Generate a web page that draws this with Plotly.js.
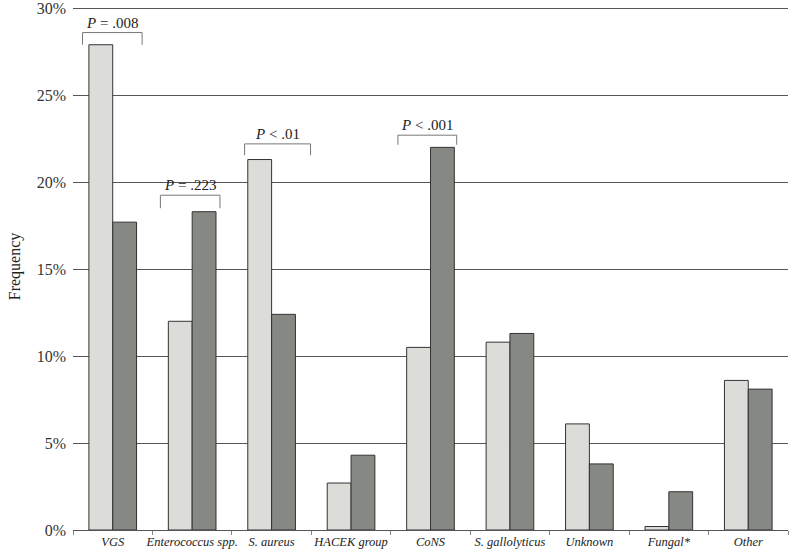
<!DOCTYPE html>
<html>
<head>
<meta charset="utf-8">
<script src="https://cdn.plot.ly/plotly-3.0.1.min.js"></script>
<style>html,body{margin:0;padding:0;background:#fff;}</style>
</head>
<body>
<div id="chart" style="width:790px;height:552px;"></div>
<script>
const categories = ["VGS", "Enterococcus spp.", "S. aureus", "HACEK group", "CoNS", "S. gallolyticus", "Unknown", "Fungal*", "Other"];
const seriesA = [27.9, 12.0, 21.3, 2.7, 10.5, 10.8, 6.1, 0.2, 8.6];
const seriesB = [17.7, 18.3, 12.4, 4.3, 22.0, 11.3, 3.8, 2.2, 8.1];
const yTicks = [0, 5, 10, 15, 20, 25, 30];
const pLabels = ["<i>P</i> = .008", "<i>P</i> = .223", "<i>P</i> < .01", "<i>P</i> < .001"];
const pCategory = [0, 1, 2, 4];
const pLeft = [-0.38, -0.40, -0.34, -0.41];
const pRight = [0.37, 0.35, 0.49, 0.33];
const pTop = [28.6, 19.25, 22.2, 22.7];
const pBottom = [27.9, 18.5, 21.55, 22.15];

const font = "'Liberation Serif', 'Times New Roman', serif";

const traces = [
  {type: "bar", x: categories, y: seriesA, marker: {color: "#dcddd9", line: {color: "#333333", width: 1}}, showlegend: false, hoverinfo: "skip"},
  {type: "bar", x: categories, y: seriesB, marker: {color: "#868883", line: {color: "#333333", width: 1}}, showlegend: false, hoverinfo: "skip"}
];

const shapes = [];
const annotations = [];
for (let i = 0; i < pLabels.length; i++) {
  const c = pCategory[i];
  shapes.push({type: "path", xref: "x", yref: "y",
    path: `M ${c + pLeft[i]} ${pBottom[i]} L ${c + pLeft[i]} ${pTop[i]} L ${c + pRight[i]} ${pTop[i]} L ${c + pRight[i]} ${pBottom[i]}`,
    line: {color: "#777777", width: 1}});
  annotations.push({xref: "x", yref: "y", x: c + (pLeft[i] + pRight[i]) / 2, y: pTop[i], yanchor: "bottom", yshift: 0,
    text: pLabels[i], showarrow: false, font: {family: font, size: 15, color: "#222"}});
}

const layout = {
  width: 790, height: 552,
  margin: {l: 73, r: 2, t: 3, b: 22},
  paper_bgcolor: "#ffffff", plot_bgcolor: "#ffffff",
  barmode: "group", bargap: 0.4, bargroupgap: 0,
  font: {family: font, color: "#222"},
  xaxis: {
    type: "category", showgrid: false, zeroline: false,
    showline: true, linecolor: "#555", linewidth: 1,
    ticks: "outside", tickson: "boundaries", ticklen: 4, tickcolor: "#888",
    tickangle: 0, automargin: false,
    tickfont: {family: font, size: 12.5, style: "italic", color: "#222"}
  },
  yaxis: {
    range: [0, 30.3], tickvals: yTicks, ticktext: yTicks.map(v => v + "%"),
    showgrid: true, gridcolor: "#555", gridwidth: 1,
    zeroline: true, zerolinecolor: "#555", zerolinewidth: 1,
    showline: false, ticks: "", ticklabelstandoff: 6, automargin: false,
    ticklabeloverflow: "allow",
    tickfont: {family: font, size: 16, color: "#333"},
    title: {text: "Frequency", font: {family: font, size: 16, color: "#222"}, standoff: 12}
  },
  shapes: shapes,
  annotations: annotations
};

Plotly.newPlot("chart", traces, layout, {staticPlot: true, displayModeBar: false});
</script>
</body>
</html>
